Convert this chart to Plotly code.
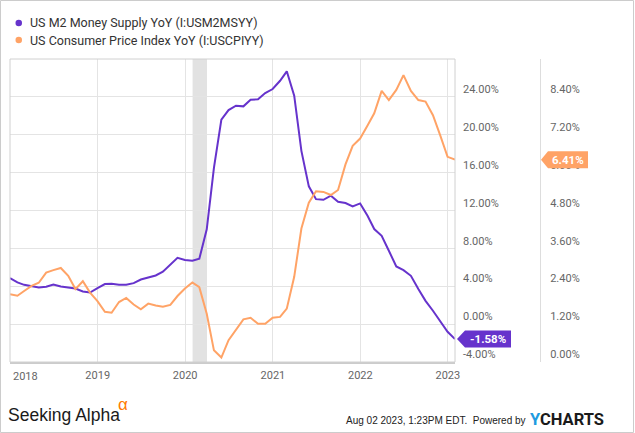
import plotly.graph_objects as go
import pandas as pd

# ---------------- data ----------------
start_month = "2017-12-31"
end_month = "2023-01-31"

m2_yoy = [4.86, 4.40, 4.15, 3.98, 3.87, 3.94, 4.19, 3.97, 3.87, 3.76, 3.45, 3.34,
          3.80, 4.23, 4.26, 4.15, 4.15, 4.33, 4.71, 4.93, 5.14, 5.53, 6.27, 7.00,
          6.78, 6.70, 6.90, 10.02, 16.5, 21.6, 22.6, 23.07, 23.0, 23.7, 23.74, 24.4,
          24.83, 25.7, 26.7, 24.13, 18.3, 14.55, 13.2, 13.13, 13.56, 12.93, 12.79, 12.43,
          12.75, 11.45, 10.04, 9.33, 7.75, 6.09, 5.70, 5.10, 3.70, 2.46, 1.41, 0.35,
          -0.81, -1.58]

cpi_yoy = [2.15, 2.10, 2.25, 2.41, 2.51, 2.83, 2.91, 2.98, 2.73, 2.31, 2.56, 2.20,
           1.93, 1.59, 1.56, 1.90, 2.03, 1.82, 1.67, 1.85, 1.79, 1.75, 1.81, 2.09,
           2.33, 2.52, 2.37, 1.53, 0.37, 0.14, 0.69, 1.04, 1.35, 1.40, 1.21, 1.21,
           1.40, 1.43, 1.69, 2.70, 4.23, 5.05, 5.41, 5.39, 5.29, 5.45, 6.26, 6.85,
           7.08, 7.49, 7.88, 8.59, 8.30, 8.62, 9.09, 8.59, 8.30, 8.25, 7.82, 7.19,
           6.50, 6.41]

series_names = ["US M2 Money Supply YoY (I:USM2MSYY)",
                "US Consumer Price Index YoY (I:USCPIYY)"]

year_ticks = ["2018-01-01", "2019-01-01", "2020-01-01", "2021-01-01", "2022-01-01", "2023-01-01"]
year_labels = ["2018", "2019", "2020", "2021", "2022", "2023"]

m2_ticks = [-4, 0, 4, 8, 12, 16, 20, 24]
cpi_ticks = [0.0, 1.2, 2.4, 3.6, 4.8, 6.0, 7.2, 8.4]

recession = ["2020-02-01", "2020-04-01"]

try:
    dates = pd.date_range(start_month, end_month, freq="ME")
except Exception:
    dates = pd.date_range(start_month, end_month, freq="M")

# ---------------- styling ----------------
PURPLE = "#6633CC"
ORANGE = "#FFA366"
GRID = "#e4e4e4"
BORDER = "#d0d0d0"
TICKC = "#666666"
FONT = "Roboto"
SANS = "Liberation Sans, Arial, sans-serif"

W, H = 635, 433
ML, MR, MT, MB = 10, 75, 59, 71
PW = W - ML - MR
PH = H - MT - MB


def px(p):
    return (p - ML) / PW


def py(q):
    return (H - MB - q) / PH


fig = go.Figure()
fig.add_trace(go.Scatter(x=dates, y=m2_yoy, mode="lines", name=series_names[0],
                         line=dict(color=PURPLE, width=2), yaxis="y", showlegend=False))
fig.add_trace(go.Scatter(x=dates, y=cpi_yoy, mode="lines", name=series_names[1],
                         line=dict(color=ORANGE, width=2), yaxis="y2", showlegend=False))

y_lo, y_hi = -4, 28
y2_lo, y2_hi = 0, 9.6

shapes = []
# recession shading
shapes.append(dict(type="rect", xref="x", yref="paper", x0=recession[0], x1=recession[1],
                   y0=0, y1=1, fillcolor="#e2e2e2", line=dict(width=0), layer="below"))
# plot border
shapes.append(dict(type="rect", xref="paper", yref="paper", x0=0, x1=px(455), y0=0, y1=1,
                   line=dict(color=BORDER, width=1), fillcolor="rgba(0,0,0,0)"))
# outer border
shapes.append(dict(type="rect", xref="paper", yref="paper", x0=px(0.5), x1=px(W - 1.5),
                   y0=py(H - 0.5), y1=py(0.5), line=dict(color="#cccccc", width=1),
                   fillcolor="rgba(0,0,0,0)"))

# end value flags
m2_last = m2_yoy[-1]
dy1 = 8.5 * (y_hi - y_lo) / PH
x_tip, x_b0, x_b1 = px(457), px(465), px(511)
shapes.append(dict(type="path", xref="paper", yref="y",
                   path=f"M {x_tip},{m2_last} L {x_b0},{m2_last + dy1} L {x_b1},{m2_last + dy1} "
                        f"L {x_b1},{m2_last - dy1} L {x_b0},{m2_last - dy1} Z",
                   fillcolor=PURPLE, line=dict(width=0)))
cpi_last = cpi_yoy[-1]
dy2 = 8.5 * (y2_hi - y2_lo) / PH
x2_tip, x2_b0, x2_b1 = px(541), px(548), px(588)
shapes.append(dict(type="path", xref="paper", yref="y2",
                   path=f"M {x2_tip},{cpi_last} L {x2_b0},{cpi_last + dy2} L {x2_b1},{cpi_last + dy2} "
                        f"L {x2_b1},{cpi_last - dy2} L {x2_b0},{cpi_last - dy2} Z",
                   fillcolor=ORANGE, line=dict(width=0)))

# legend dots
for i, col in enumerate([PURPLE, ORANGE]):
    cy = 23 + i * 17
    shapes.append(dict(type="circle", xref="paper", yref="paper",
                       x0=px(15.5), x1=px(22), y0=py(cy + 3.3), y1=py(cy - 3.3),
                       fillcolor=col, line=dict(width=0)))

annotations = []
for i, name in enumerate(series_names):
    annotations.append(dict(xref="paper", yref="paper", x=px(28), y=py(23 + i * 17),
                            xanchor="left", yanchor="middle", text=name, showarrow=False,
                            font=dict(family=FONT, size=12.5, color="#333333")))

annotations.append(dict(xref="paper", yref="y", x=(x_b0 + x_b1) / 2, y=m2_last,
                        text=f"<b>{m2_last:.2f}%</b>", showarrow=False,
                        font=dict(family=FONT, size=11.5, color="white"),
                        xanchor="center", yanchor="middle"))
annotations.append(dict(xref="paper", yref="y2", x=(x2_b0 + x2_b1) / 2, y=cpi_last,
                        text=f"<b>{cpi_last:.2f}%</b>", showarrow=False,
                        font=dict(family=FONT, size=11.5, color="white"),
                        xanchor="center", yanchor="middle"))

# 2018 label (shifted inside like the original)
annotations.append(dict(xref="paper", yref="paper", x=px(25), y=py(376.5), text=year_labels[0],
                        showarrow=False, xanchor="center", yanchor="middle",
                        font=dict(family=FONT, size=11, color=TICKC)))

# footer
annotations.append(dict(xref="paper", yref="paper", x=px(6), y=py(415), text="Seeking Alpha",
                        showarrow=False, xanchor="left", yanchor="middle",
                        font=dict(family=SANS, size=17.5, color="#1a1a1a")))
annotations.append(dict(xref="paper", yref="paper", x=px(116), y=py(404), text="α",
                        showarrow=False, xanchor="left", yanchor="middle",
                        font=dict(family=SANS, size=17, color="#FF7A00")))
annotations.append(dict(xref="paper", yref="paper", x=px(528), y=py(420),
                        text="Aug 02 2023, 1:23PM EDT.  Powered by",
                        showarrow=False, xanchor="right", yanchor="middle",
                        font=dict(family=SANS, size=10, color="#222222")))
annotations.append(dict(xref="paper", yref="paper", x=px(528), y=py(419),
                        text="<b><span style='color:#1E9BE0'>Y</span>CHARTS</b>",
                        showarrow=False, xanchor="left", yanchor="middle",
                        font=dict(family=FONT, size=16.5, color="#1a1a1a")))

fig.update_layout(
    template="none",
    width=W, height=H,
    margin=dict(l=ML, r=MR, t=MT, b=MB, pad=0, autoexpand=False),
    paper_bgcolor="white", plot_bgcolor="white",
    font=dict(family=FONT, size=11, color=TICKC),
    showlegend=False,
    xaxis=dict(domain=[0, px(455)], type="date", automargin=False,
               range=[dates[0], dates[-1]],
               tickvals=year_ticks, ticktext=[""] + year_labels[1:],
               showgrid=True, gridcolor=GRID, gridwidth=1,
               ticks="", showline=True, linecolor="#cccccc", linewidth=2,
               tickfont=dict(family=FONT, size=11, color=TICKC),
               zeroline=False, ticklabelstandoff=2),
    yaxis=dict(range=[y_lo, y_hi], side="right", anchor="x", automargin=False,
               tickvals=m2_ticks, ticktext=[f"{v:.2f}%" for v in m2_ticks],
               showgrid=True, gridcolor=GRID, gridwidth=1, zeroline=False,
               ticks="", showline=False, ticklabelposition="outside top",
               ticklabelstandoff=7,
               tickfont=dict(family=FONT, size=11, color=TICKC)),
    yaxis2=dict(range=[y2_lo, y2_hi], side="right", overlaying="y", anchor="free",
                position=px(540), automargin=False,
                tickvals=cpi_ticks, ticktext=[f"{v:.2f}%" for v in cpi_ticks],
                showgrid=False, zeroline=False, ticks="",
                showline=True, linecolor="#dddddd", linewidth=1,
                ticklabelposition="outside top", ticklabelstandoff=7,
                tickfont=dict(family=FONT, size=11, color=TICKC)),
    shapes=shapes,
    annotations=annotations,
)

fig.write_html("out.html", config={"displayModeBar": False},
               post_script="document.body.style.margin='0';document.body.style.padding='0';")
